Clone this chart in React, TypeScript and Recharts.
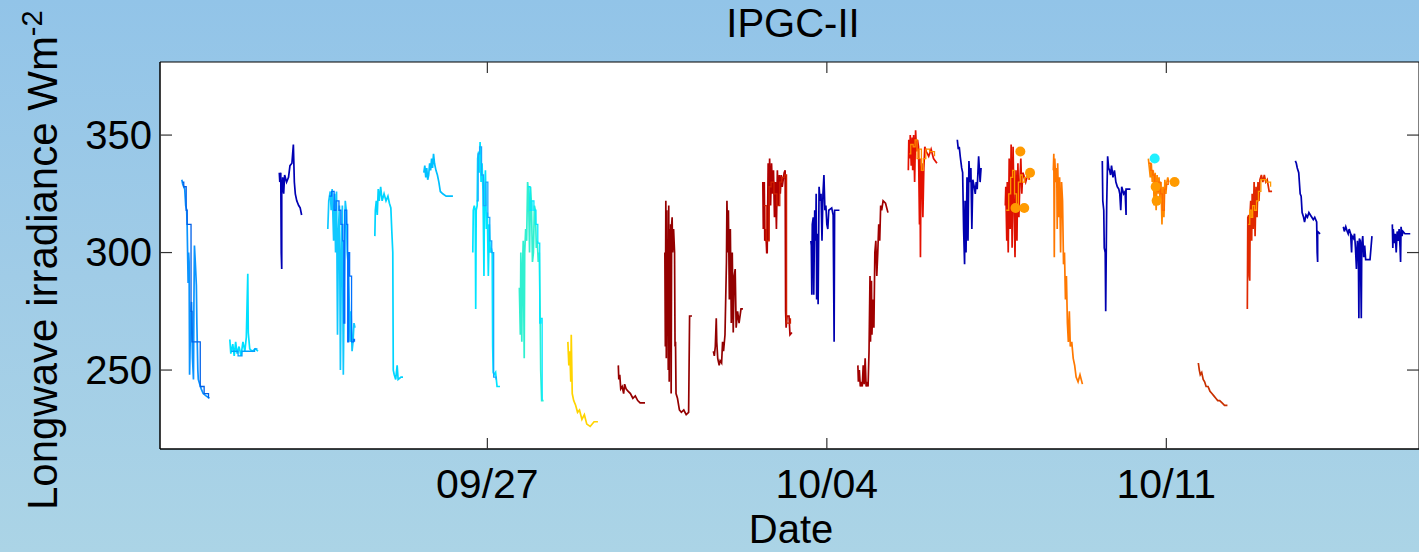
import React from "react";
import { ComposedChart, Line, Scatter, XAxis, YAxis, ReferenceArea } from "recharts";

// Days are counted from 09/27 (00:00); values are longwave irradiance in W m^-2
const xTicks = [0, 7, 14];
const xTickLabels = ["09/27", "10/04", "10/11"];
const yTicks = [250, 300, 350];

const seg01: [number, number][] = [[-6.30,331],[-6.28,329],[-6.24,327],[-6.22,320],[-6.20,318],[-6.19,311],[-6.17,287],[-6.16,300],[-6.15,296],[-6.14,248],[-6.12,270],[-6.10,279],[-6.08,255],[-6.06,246],[-6.05,280],[-6.04,303],[-6.02,295],[-6.00,286],[-5.99,270],[-5.97,250],[-5.96,246],[-5.93,244],[-5.90,242],[-5.86,240],[-5.80,239],[-5.73,238]];
const seg02: [number, number][] = [[-5.31,263],[-5.29,257],[-5.25,261],[-5.22,256],[-5.19,262],[-5.16,257],[-5.12,260],[-5.08,256],[-5.04,262],[-5.00,258],[-4.97,264],[-4.94,291],[-4.93,266],[-4.90,259],[-4.85,258],[-4.78,259],[-4.73,258]];
const seg03: [number, number][] = [[-4.29,334],[-4.28,330],[-4.26,334],[-4.25,300],[-4.24,293],[-4.24,325],[-4.22,332],[-4.20,325],[-4.18,333],[-4.14,330],[-4.10,332],[-4.07,337],[-4.03,338],[-4.00,346],[-3.98,330],[-3.96,325],[-3.93,322],[-3.89,320],[-3.86,319],[-3.83,316]];
const seg04: [number, number][] = [[-3.29,310],[-3.27,322],[-3.24,326],[-3.22,318],[-3.20,327],[-3.17,305],[-3.15,325],[-3.13,300],[-3.11,326],[-3.09,265],[-3.07,310],[-3.05,320],[-3.03,250],[-3.01,300],[-2.99,320],[-2.97,248],[-2.95,290],[-2.93,322],[-2.91,318],[-2.89,300],[-2.87,295],[-2.85,280],[-2.83,262],[-2.81,275],[-2.79,258],[-2.77,262],[-2.75,270],[-2.73,268]];
const seg05: [number, number][] = [[-2.32,307],[-2.31,318],[-2.29,322],[-2.27,316],[-2.25,327],[-2.23,322],[-2.20,328],[-2.17,322],[-2.13,325],[-2.09,322],[-2.05,324],[-2.02,321],[-1.99,319],[-1.97,309],[-1.95,300],[-1.94,250],[-1.92,248],[-1.89,246],[-1.86,252],[-1.84,246],[-1.78,247],[-1.74,247]];
const seg06: [number, number][] = [[-1.31,334],[-1.29,337],[-1.27,332],[-1.25,336],[-1.23,331],[-1.21,333],[-1.19,338],[-1.17,335],[-1.15,340],[-1.13,336],[-1.11,342],[-1.09,338],[-1.06,335],[-1.03,333],[-1.00,330],[-0.97,326],[-0.92,325],[-0.85,324],[-0.78,324],[-0.71,324]];
const seg07: [number, number][] = [[-0.30,300],[-0.29,318],[-0.27,320],[-0.25,318],[-0.24,276],[-0.23,318],[-0.21,320],[-0.20,340],[-0.18,343],[-0.17,334],[-0.15,347],[-0.13,330],[-0.11,338],[-0.09,326],[-0.07,290],[-0.06,324],[-0.04,335],[-0.02,310],[0.00,317],[0.02,290],[0.04,312],[0.06,300],[0.08,302],[0.10,300],[0.11,260],[0.12,249],[0.14,248],[0.17,249],[0.20,243],[0.26,243]];
const seg08: [number, number][] = [[0.66,285],[0.68,265],[0.69,300],[0.71,262],[0.72,290],[0.74,305],[0.76,255],[0.77,300],[0.79,310],[0.81,305],[0.83,330],[0.85,325],[0.87,300],[0.89,328],[0.91,320],[0.93,296],[0.95,300],[0.97,320],[0.99,318],[1.01,302],[1.03,305],[1.05,296],[1.07,300],[1.09,272],[1.10,250],[1.12,237],[1.14,237],[1.16,237]];
const seg09: [number, number][] = [[1.66,262],[1.68,252],[1.70,258],[1.72,245],[1.73,265],[1.75,240],[1.78,237],[1.82,235],[1.86,232],[1.90,233],[1.95,229],[2.00,231],[2.05,227],[2.12,226],[2.20,228],[2.28,228]];
const seg10: [number, number][] = [[2.70,252],[2.71,246],[2.73,248],[2.75,242],[2.78,243],[2.81,240],[2.83,244],[2.86,242],[2.90,241],[2.95,240],[3.00,238],[3.05,239],[3.10,237],[3.15,236],[3.20,236],[3.25,236]];
const seg11: [number, number][] = [[3.66,300],[3.67,260],[3.68,322],[3.69,255],[3.70,318],[3.71,270],[3.72,300],[3.73,250],[3.74,320],[3.75,245],[3.76,310],[3.77,262],[3.78,312],[3.79,240],[3.80,312],[3.81,315],[3.82,300],[3.84,310],[3.86,300],[3.87,260],[3.88,262],[3.89,240],[3.92,238],[3.96,233],[4.00,232],[4.05,233],[4.10,231],[4.15,232],[4.17,273],[4.22,273]];
const seg12: [number, number][] = [[4.66,258],[4.68,256],[4.70,260],[4.72,272],[4.73,262],[4.75,255],[4.78,252],[4.80,254],[4.83,253],[4.85,262],[4.87,258],[4.90,265],[4.93,296],[4.94,322],[4.96,300],[4.97,318],[4.99,280],[5.01,310],[5.03,270],[5.05,300],[5.07,266],[5.09,290],[5.11,293],[5.13,268],[5.16,275],[5.19,270],[5.23,276],[5.27,276]];
const seg13: [number, number][] = [[5.68,330],[5.69,310],[5.71,330],[5.72,305],[5.74,310],[5.76,300],[5.77,300],[5.79,338],[5.80,305],[5.82,340],[5.84,320],[5.86,338],[5.88,325],[5.90,335],[5.92,315],[5.94,330],[5.96,310],[5.98,335],[6.00,320],[6.02,333],[6.04,325],[6.06,333],[6.08,328],[6.12,334],[6.14,335],[6.15,275],[6.16,268],[6.18,273],[6.22,273],[6.24,265],[6.28,266]];
const seg14: [number, number][] = [[6.67,305],[6.68,303],[6.69,282],[6.70,312],[6.72,315],[6.73,282],[6.75,318],[6.77,305],[6.78,325],[6.79,280],[6.81,308],[6.82,278],[6.84,328],[6.86,322],[6.88,325],[6.90,305],[6.92,325],[6.94,333],[6.96,318],[6.98,320],[7.00,312],[7.02,310],[7.04,318],[7.10,319],[7.13,316],[7.15,262],[7.16,318],[7.26,318]];
const seg15: [number, number][] = [[7.64,252],[7.65,245],[7.67,250],[7.69,243],[7.71,245],[7.73,243],[7.75,252],[7.77,244],[7.79,255],[7.81,243],[7.83,245],[7.85,243],[7.87,258],[7.89,290],[7.90,262],[7.92,288],[7.93,265],[7.95,280],[7.97,268],[7.99,300],[8.01,305],[8.03,290],[8.05,300],[8.07,312],[8.09,305],[8.11,320],[8.13,318],[8.16,322],[8.21,321],[8.26,317]];
const seg16: [number, number][] = [[8.68,335],[8.69,348],[8.71,340],[8.72,350],[8.74,337],[8.76,349],[8.77,335],[8.79,350],[8.81,330],[8.83,352],[8.85,343],[8.87,348],[8.89,345],[8.91,312],[8.92,340],[8.93,298],[8.94,330],[8.96,338],[8.98,315],[9.00,336],[9.02,345],[9.05,343],[9.10,341],[9.15,344],[9.20,340],[9.27,338]];
const seg17: [number, number][] = [[9.69,348],[9.71,344],[9.73,345],[9.75,341],[9.78,336],[9.80,334],[9.82,310],[9.84,295],[9.85,322],[9.87,300],[9.89,332],[9.91,305],[9.93,339],[9.95,330],[9.97,336],[9.99,310],[10.01,331],[10.04,328],[10.06,325],[10.08,330],[10.10,327],[10.13,341],[10.16,330],[10.18,336]];
const seg18: [number, number][] = [[10.68,320],[10.69,328],[10.71,305],[10.72,330],[10.74,300],[10.76,340],[10.78,310],[10.80,346],[10.82,302],[10.84,345],[10.86,320],[10.88,298],[10.90,335],[10.92,305],[10.94,338],[10.96,315],[10.98,330],[11.00,340],[11.02,325],[11.04,334],[11.06,333],[11.10,330],[11.14,333],[11.18,331]];
const seg19: [number, number][] = [[11.67,335],[11.68,342],[11.69,298],[11.70,340],[11.72,330],[11.74,336],[11.75,310],[11.76,338],[11.78,315],[11.80,332],[11.82,300],[11.84,330],[11.86,322],[11.88,295],[11.90,300],[11.92,280],[11.94,290],[11.96,270],[11.98,262],[12.00,275],[12.02,260],[12.05,262],[12.08,255],[12.11,252],[12.14,247],[12.18,245],[12.22,248],[12.27,244]];
const seg20: [number, number][] = [[12.68,339],[12.69,322],[12.71,318],[12.72,302],[12.74,300],[12.75,275],[12.77,320],[12.79,341],[12.81,336],[12.83,335],[12.85,333],[12.87,337],[12.90,332],[12.93,335],[12.96,330],[12.99,328],[13.02,327],[13.04,325],[13.06,318],[13.08,328],[13.12,325],[13.15,326],[13.17,316],[13.17,327],[13.26,327]];
const seg21: [number, number][] = [[13.63,340],[13.65,336],[13.67,332],[13.69,338],[13.71,330],[13.73,335],[13.75,320],[13.77,334],[13.79,318],[13.81,333],[13.83,325],[13.85,332],[13.87,322],[13.89,330],[13.91,312],[13.93,328],[13.95,315],[13.97,331],[13.99,325],[14.01,330],[14.03,332],[14.05,330]];
const seg22: [number, number][] = [[14.66,253],[14.68,250],[14.70,248],[14.73,249],[14.76,246],[14.79,245],[14.82,243],[14.86,243],[14.90,241],[14.94,240],[14.98,239],[15.02,238],[15.06,237],[15.10,237],[15.15,236],[15.20,235],[15.26,235]];
const seg23: [number, number][] = [[15.67,276],[15.68,315],[15.70,316],[15.71,290],[15.72,288],[15.73,318],[15.74,322],[15.76,305],[15.77,325],[15.79,310],[15.81,330],[15.83,307],[15.85,328],[15.87,315],[15.89,330],[15.91,322],[15.93,331],[15.96,333],[15.99,330],[16.02,333],[16.05,330],[16.08,331],[16.12,326],[16.18,326]];
const seg24: [number, number][] = [[16.66,339],[16.68,338],[16.70,336],[16.73,334],[16.76,325],[16.78,324],[16.80,317],[16.83,315],[16.85,313],[16.88,316],[16.91,315],[16.94,317],[16.97,316],[17.00,315],[17.03,314],[17.06,315],[17.10,313],[17.11,300],[17.12,296],[17.12,309],[17.17,308]];
const seg25: [number, number][] = [[17.65,311],[17.67,309],[17.70,311],[17.73,309],[17.75,308],[17.77,310],[17.80,308],[17.82,300],[17.83,307],[17.86,306],[17.88,308],[17.90,302],[17.92,293],[17.94,305],[17.96,300],[17.97,272],[17.98,306],[18.00,305],[18.02,272],[18.03,303],[18.05,307],[18.07,298],[18.09,303],[18.11,297],[18.14,297],[18.20,297],[18.24,307]];
const seg26: [number, number][] = [[18.66,312],[18.67,302],[18.68,310],[18.70,304],[18.72,308],[18.74,300],[18.76,309],[18.78,305],[18.80,310],[18.82,302],[18.83,296],[18.84,311],[18.86,307],[18.88,309],[18.92,308],[18.97,308],[19.03,308]];

// secondary-coloured traces overlapping some days (read from the multicoloured clusters)
const acc01: [number, number][] = [[-6.29,330],[-6.26,328],[-6.21,318],[-6.19,312],[-6.11,275],[-6.09,262],[-5.92,243],[-5.84,240],[-5.75,238]];
const acc02: [number, number][] = [[-5.28,258],[-5.21,258],[-5.14,256],[-5.06,258],[-4.88,258],[-4.80,259],[-4.74,259]];
const acc04: [number, number][] = [[-3.26,324],[-3.21,326],[-3.16,318],[-3.12,322],[-3.06,318],[-3.02,312],[-2.98,305],[-2.96,270],[-2.94,318],[-2.90,312],[-2.88,262],[-2.86,300],[-2.84,290],[-2.80,262],[-2.76,263],[-2.74,262]];
const acc07: [number, number][] = [[-0.22,322],[-0.19,342],[-0.16,345],[-0.12,333],[-0.08,320],[-0.03,330],[0.01,315],[0.05,305],[0.09,300],[0.13,247],[0.18,246]];
const acc08: [number, number][] = [[0.84,328],[0.88,318],[0.92,322],[0.96,318],[1.00,312],[1.04,304],[1.08,270],[1.10,272],[1.13,237]];
const acc13: [number, number][] = [[5.70,320],[5.75,305],[5.81,328],[5.85,330],[5.91,325],[5.97,320],[6.03,330],[6.07,332],[6.13,333],[6.17,270],[6.25,272]];
const acc16: [number, number][] = [[8.70,342],[8.73,346],[8.78,345],[8.82,348],[8.86,340],[8.90,344],[8.95,335],[8.99,340],[9.04,344],[9.12,343],[9.22,341]];
const acc18: [number, number][] = [[10.70,318],[10.75,325],[10.79,332],[10.83,335],[10.87,325],[10.91,318],[10.95,330],[10.99,333],[11.03,330],[11.08,332],[11.16,331]];
const acc21: [number, number][] = [[13.64,338],[13.68,335],[13.72,333],[13.76,330],[13.80,326],[13.84,330],[13.88,325],[13.92,318],[13.96,327],[14.00,329],[14.04,331]];
const acc23: [number, number][] = [[15.69,312],[15.72,318],[15.75,315],[15.78,320],[15.82,318],[15.86,322],[15.90,326],[15.95,331],[16.00,331],[16.06,330],[16.15,328]];

const accents = [acc01, acc02, acc04, acc07, acc08, acc13, acc16, acc18, acc21, acc23];
const accentColors = ["#0060e8", "#00a0ff", "#0070ff", "#18a8ff", "#00e8ff", "#d02000", "#ff8a00", "#ff9400", "#ff6a00", "#ff9a00"];

const segments = [seg01, seg02, seg03, seg04, seg05, seg06, seg07, seg08, seg09, seg10, seg11, seg12, seg13,
  seg14, seg15, seg16, seg17, seg18, seg19, seg20, seg21, seg22, seg23, seg24, seg25, seg26];
const segColors = ["#0a94ff", "#00e0ff", "#0000b4", "#10c8ff", "#00d4ff", "#00c0ff", "#00e4ff", "#30f0d0", "#ffd400",
  "#960000", "#940000", "#920000", "#b00000", "#0000b0", "#a00000", "#e41000", "#0000b0", "#dd1000", "#ff7800",
  "#0000b0", "#ff8800", "#c83000", "#e02800", "#0000b0", "#0000b0", "#0000b0"];

const circleDays = [10.89, 10.99, 11.07, 11.19, 13.76, 13.78, 13.80, 14.17];
const circleVals = [319, 343, 319, 334, 340, 328, 322, 330];
const circleColors = ["#ff9a00", "#ff9a00", "#ff9a00", "#ff9a00", "#20f0ff", "#ff9a00", "#ff9a00", "#ff9a00"];

const FONT = "'Liberation Sans', Arial, Helvetica, sans-serif";
const PLOT_LEFT = 160;
const PLOT_RIGHT = 1419;
const PLOT_TOP = 62;
const PLOT_BOTTOM = 449;

const YTick = (p: any) => (
  <g>
    <text x={152} y={p.y + 13.5} textAnchor="end" fontSize={40} fontFamily={FONT} fill="#000">
      {p.payload.value}
    </text>
    <line x1={PLOT_LEFT} x2={PLOT_LEFT + 12} y1={p.y} y2={p.y} stroke="#333" strokeWidth={1.2} />
    <line x1={PLOT_RIGHT - 12} x2={PLOT_RIGHT} y1={p.y} y2={p.y} stroke="#333" strokeWidth={1.2} />
  </g>
);

const XTick = (p: any) => {
  const i = xTicks.indexOf(p.payload.value);
  return (
    <g>
      <text x={p.x} y={498} textAnchor="middle" fontSize={41} fontFamily={FONT} fill="#000">
        {xTickLabels[i]}
      </text>
      <line x1={p.x} x2={p.x} y1={PLOT_BOTTOM} y2={PLOT_BOTTOM - 11} stroke="#333" strokeWidth={1.2} />
      <line x1={p.x} x2={p.x} y1={PLOT_TOP} y2={PLOT_TOP + 11} stroke="#333" strokeWidth={1.2} />
    </g>
  );
};

export default function App() {
  const circleRows = circleDays.map((d, i) => ({ d, v: circleVals[i], c: circleColors[i] }));
  return (
    <div
      style={{
        position: "absolute",
        left: 0,
        top: 0,
        width: 1419,
        height: 552,
        overflow: "hidden",
        background: "linear-gradient(to bottom, #92c4e8 0%, #a0cce7 50%, #abd4e6 100%)",
      }}
    >
      <ComposedChart width={1419} height={552} margin={{ top: PLOT_TOP, right: 0, bottom: 0, left: 0 }}>
        <XAxis
          type="number"
          dataKey="d"
          domain={[-6.75, 19.21]}
          ticks={xTicks}
          height={103}
          tickLine={false}
          axisLine={{ stroke: "#000" }}
          tick={<XTick />}
          allowDataOverflow
        />
        <YAxis
          type="number"
          domain={[216.4, 381.1]}
          ticks={yTicks}
          width={160}
          tickLine={false}
          axisLine={{ stroke: "#000" }}
          tick={<YTick />}
          allowDataOverflow
        />
        <ReferenceArea x1={-6.75} x2={19.21} y1={216.4} y2={381.1} fill="#ffffff" fillOpacity={1} stroke="#000" strokeWidth={1} />
        {segments.map((s, i) => (
          <Line
            key={"s" + i}
            data={s.map(([d, v]) => ({ d, v }))}
            dataKey="v"
            type="linear"
            stroke={segColors[i]}
            strokeWidth={1.7}
            dot={false}
            activeDot={false}
            isAnimationActive={false}
          />
        ))}
        {accents.map((s, i) => (
          <Line
            key={"a" + i}
            data={s.map(([d, v]) => ({ d, v }))}
            dataKey="v"
            type="stepAfter"
            stroke={accentColors[i]}
            strokeWidth={1.3}
            dot={false}
            activeDot={false}
            isAnimationActive={false}
          />
        ))}
        <Scatter
          data={circleRows}
          dataKey="v"
          isAnimationActive={false}
          shape={(p: any) => <circle cx={p.cx} cy={p.cy} r={5} fill={p.payload.c} />}
        />
      </ComposedChart>
      <svg width={1419} height={552} style={{ position: "absolute", left: 0, top: 0, pointerEvents: "none" }}>
        <text x={793} y={37} textAnchor="middle" fontSize={40} fontFamily={FONT} fill="#000">IPGC-II</text>
        <text x={791} y={543} textAnchor="middle" fontSize={40} fontFamily={FONT} fill="#000">Date</text>
        <text transform="translate(57,510) rotate(-90)" fontSize={42} fontFamily={FONT} fill="#000">
          Longwave irradiance Wm<tspan dy={-15} fontSize={29}>-2</tspan>
        </text>
      </svg>
    </div>
  );
}
